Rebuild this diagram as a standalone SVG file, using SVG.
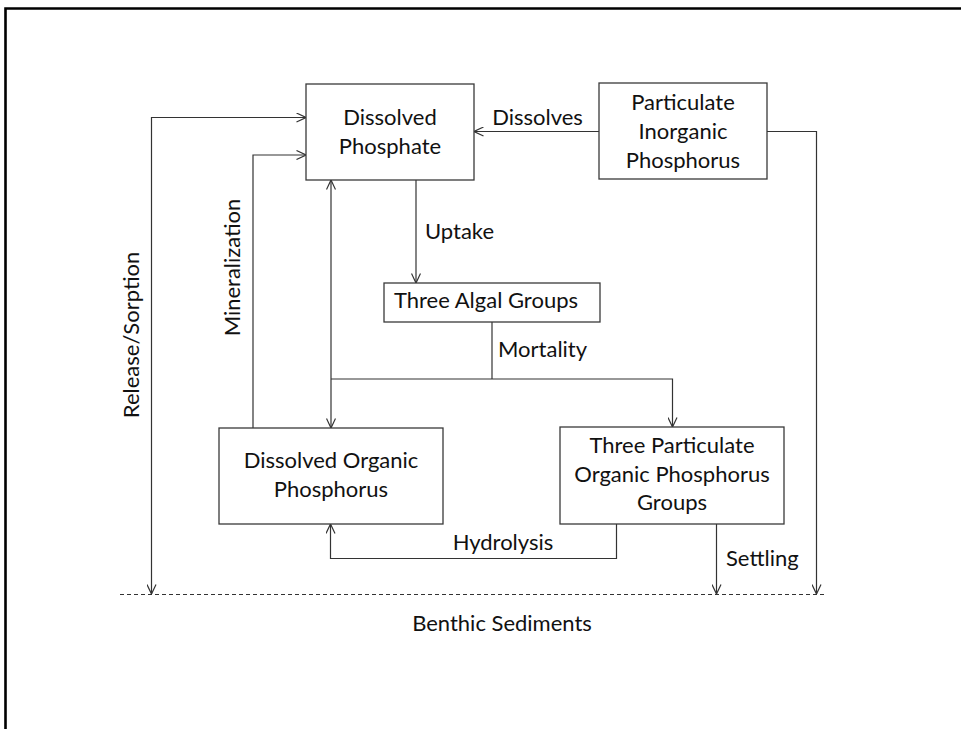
<svg xmlns="http://www.w3.org/2000/svg" width="961" height="729" viewBox="0 0 961 729">
<style>
.box{fill:#fff;stroke:#3a3a3a;stroke-width:1.3}
.c{fill:none;stroke:#333;stroke-width:1.2}
.t{font-family:Lato,"Open Sans",sans-serif;font-size:22px;fill:#111}
.m{text-anchor:middle}
</style>
<defs>
<marker id="a" viewBox="0 0 10 10" refX="10" refY="5" markerWidth="10" markerHeight="10" markerUnits="userSpaceOnUse" orient="auto-start-reverse">
<path d="M0.5,0.5 L10,5 L0.5,9.5" fill="none" stroke="#333" stroke-width="1.2"/>
</marker>
</defs>
<rect width="961" height="729" fill="#fff"/>
<path d="M5.5,729 V8.5 H961" fill="none" stroke="#000" stroke-width="2.6"/>
<g id="connectors">
<path class="c" d="M599,131.5 H474" marker-end="url(#a)"/>
<path class="c" d="M767,131.5 H816.5 V594" marker-end="url(#a)"/>
<path class="c" d="M306,117.5 H151.5 V594" marker-start="url(#a)" marker-end="url(#a)"/>
<path class="c" d="M253,428 V155 H306" marker-end="url(#a)"/>
<path class="c" d="M331,180 V428" marker-start="url(#a)" marker-end="url(#a)"/>
<path class="c" d="M492,322 V379"/>
<path class="c" d="M331,379 H672.5 V427" marker-end="url(#a)"/>
<path class="c" d="M416,180 V283" marker-end="url(#a)"/>
<path class="c" d="M616.5,524 V558.5 H330.5 V524" marker-end="url(#a)"/>
<path class="c" d="M716.5,524 V594" marker-end="url(#a)"/>
<path d="M120,594.5 H824" fill="none" stroke="#333" stroke-width="1.1" stroke-dasharray="4,3"/>
<text class="t m" x="537.5" y="125">Dissolves</text>
<text class="t" x="425" y="239">Uptake</text>
<text class="t" x="498" y="357">Mortality</text>
<text class="t m" x="503" y="550">Hydrolysis</text>
<text class="t" x="726" y="566">Settling</text>
<text class="t m" transform="translate(240,267.5) rotate(-90)">Mineralization</text>
<text class="t m" transform="translate(139,335) rotate(-90)">Release/Sorption</text>
</g>
<g id="dissolved-phosphate">
<rect class="box" x="306" y="84" width="168" height="96"/>
<text class="t m" x="390" y="125">Dissolved</text>
<text class="t m" x="390" y="154">Phosphate</text>
</g>
<g id="particulate-inorganic-phosphorus">
<rect class="box" x="599" y="83" width="168" height="96"/>
<text class="t m" x="683" y="110">Particulate</text>
<text class="t m" x="683" y="139">Inorganic</text>
<text class="t m" x="683" y="168">Phosphorus</text>
</g>
<g id="three-algal-groups">
<rect class="box" x="384" y="283" width="216" height="39"/>
<text class="t m" x="486" y="308">Three Algal Groups</text>
</g>
<g id="dissolved-organic-phosphorus">
<rect class="box" x="219" y="428" width="224" height="96"/>
<text class="t m" x="331" y="468">Dissolved Organic</text>
<text class="t m" x="331" y="497">Phosphorus</text>
</g>
<g id="three-particulate-organic-phosphorus-groups">
<rect class="box" x="560" y="427" width="224" height="97"/>
<text class="t m" x="672" y="453">Three Particulate</text>
<text class="t m" x="672" y="482">Organic Phosphorus</text>
<text class="t m" x="672" y="510">Groups</text>
</g>
<g id="benthic-sediments">
<text class="t m" x="502" y="631">Benthic Sediments</text>
</g>
</svg>
